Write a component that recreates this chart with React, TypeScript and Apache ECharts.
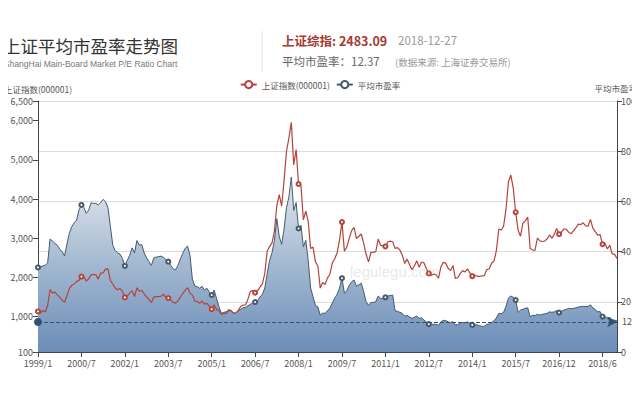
import React, { useEffect, useRef } from "react";
import * as echarts from "echarts";

const categories = [
  "1999/1","1999/2","1999/3","1999/4","1999/5","1999/6","1999/7","1999/8","1999/9","1999/10","1999/11","1999/12",
  "2000/1","2000/2","2000/3","2000/4","2000/5","2000/6","2000/7","2000/8","2000/9","2000/10","2000/11","2000/12",
  "2001/1","2001/2","2001/3","2001/4","2001/5","2001/6","2001/7","2001/8","2001/9","2001/10","2001/11","2001/12",
  "2002/1","2002/2","2002/3","2002/4","2002/5","2002/6","2002/7","2002/8","2002/9","2002/10","2002/11","2002/12",
  "2003/1","2003/2","2003/3","2003/4","2003/5","2003/6","2003/7","2003/8","2003/9","2003/10","2003/11","2003/12",
  "2004/1","2004/2","2004/3","2004/4","2004/5","2004/6","2004/7","2004/8","2004/9","2004/10","2004/11","2004/12",
  "2005/1","2005/2","2005/3","2005/4","2005/5","2005/6","2005/7","2005/8","2005/9","2005/10","2005/11","2005/12",
  "2006/1","2006/2","2006/3","2006/4","2006/5","2006/6","2006/7","2006/8","2006/9","2006/10","2006/11","2006/12",
  "2007/1","2007/2","2007/3","2007/4","2007/5","2007/6","2007/7","2007/8","2007/9","2007/10","2007/11","2007/12",
  "2008/1","2008/2","2008/3","2008/4","2008/5","2008/6","2008/7","2008/8","2008/9","2008/10","2008/11","2008/12",
  "2009/1","2009/2","2009/3","2009/4","2009/5","2009/6","2009/7","2009/8","2009/9","2009/10","2009/11","2009/12",
  "2010/1","2010/2","2010/3","2010/4","2010/5","2010/6","2010/7","2010/8","2010/9","2010/10","2010/11","2010/12",
  "2011/1","2011/2","2011/3","2011/4","2011/5","2011/6","2011/7","2011/8","2011/9","2011/10","2011/11","2011/12",
  "2012/1","2012/2","2012/3","2012/4","2012/5","2012/6","2012/7","2012/8","2012/9","2012/10","2012/11","2012/12",
  "2013/1","2013/2","2013/3","2013/4","2013/5","2013/6","2013/7","2013/8","2013/9","2013/10","2013/11","2013/12",
  "2014/1","2014/2","2014/3","2014/4","2014/5","2014/6","2014/7","2014/8","2014/9","2014/10","2014/11","2014/12",
  "2015/1","2015/2","2015/3","2015/4","2015/5","2015/6","2015/7","2015/8","2015/9","2015/10","2015/11","2015/12",
  "2016/1","2016/1","2016/2","2016/3","2016/4","2016/5","2016/6","2016/7","2016/8","2016/9","2016/10","2016/11","2016/12",
  "2017/1","2017/2","2017/3","2017/4","2017/5","2017/6","2017/7","2017/8","2017/9","2017/10","2017/11","2017/12",
  "2018/1","2018/2","2018/3","2018/4","2018/5","2018/6","2018/7","2018/8","2018/9","2018/10","2018/11","2018/12",
];

// 上证指数(000001)
const shIndex = [
  1135, 1090, 1158, 1121, 1279, 1689, 1601, 1627, 1557, 1500, 1423, 1367,
  1535, 1715, 1800, 1836, 1895, 1928, 2023, 2021, 1910, 1961, 2071, 2073,
  2066, 1959, 2113, 2119, 2214, 2218, 1920, 1834, 1730, 1690, 1718, 1646,
  1492, 1524, 1603, 1665, 1515, 1733, 1652, 1669, 1582, 1507, 1435, 1358,
  1500, 1512, 1511, 1521, 1577, 1486, 1477, 1422, 1367, 1348, 1397, 1497,
  1591, 1675, 1742, 1596, 1556, 1399, 1386, 1342, 1397, 1321, 1341, 1267,
  1192, 1306, 1181, 1159, 1061, 1081, 1083, 1163, 1156, 1093, 1099, 1161,
  1258, 1299, 1298, 1440, 1641, 1672, 1613, 1659, 1752, 1838, 2099, 2675,
  2786, 2881, 3184, 3841, 4110, 3821, 4471, 5219, 5552, 5955, 4872, 5262,
  4383, 4349, 3473, 3693, 3433, 2736, 2776, 2397, 2294, 1729, 1871, 1821,
  1991, 2083, 2373, 2478, 2633, 2959, 3412, 2668, 2779, 2996, 3195, 3277,
  2989, 3052, 3109, 2871, 2592, 2398, 2638, 2639, 2656, 2979, 2820, 2808,
  2791, 2905, 2928, 2912, 2743, 2762, 2702, 2567, 2359, 2468, 2333, 2199,
  2293, 2428, 2263, 2396, 2372, 2225, 2104, 2048, 2086, 2069, 1980, 2269,
  2385, 2366, 2237, 2178, 2301, 1979, 1994, 2098, 2175, 2142, 2221, 2116,
  2033, 2056, 2033, 2026, 2039, 2048, 2202, 2217, 2364, 2420, 2683, 3235,
  3210, 3310, 3748, 4442, 4612, 4277, 3664, 3206, 3053, 3383, 3445, 3539,
  2738, 2700, 2688, 3004, 2938, 2917, 2930, 2979, 3085, 3005, 3100, 3250, 3104,
  3159, 3242, 3223, 3155, 3117, 3192, 3273, 3361, 3349, 3393, 3317, 3307,
  3481, 3259, 3169, 3082, 3095, 2847, 2876, 2725, 2821, 2603, 2588, 2483,
];

// 平均市盈率
const avgPE = [
  33.7, 33.9, 34.3, 34.6, 35.5, 45.0, 44.2, 43.3, 42.5, 41.0, 40.0, 38.3,
  43.0, 47.3, 49.9, 51.5, 52.6, 56.6, 58.6, 57.6, 55.2, 56.5, 59.5, 59.2,
  59.2, 58.6, 59.5, 60.8, 59.9, 57.5, 50.0, 42.5, 40.5, 39.5, 39.0, 37.3,
  34.3, 36.5, 38.5, 41.5, 39.5, 44.4, 42.6, 42.8, 39.5, 37.5, 36.0, 34.5,
  37.5, 37.8, 38.0, 38.2, 37.7, 36.8, 36.0, 34.6, 33.2, 32.7, 34.5, 37.0,
  39.3, 41.3, 42.2, 38.5, 29.0, 26.3, 26.0, 25.4, 26.2, 24.7, 25.4, 23.9,
  22.7, 24.7, 21.4, 18.0, 15.4, 15.8, 16.0, 16.8, 16.6, 15.6, 15.4, 16.4,
  17.0, 17.6, 17.8, 18.4, 19.0, 19.4, 19.9, 20.5, 21.9, 23.0, 25.5, 31.2,
  36.5, 39.5, 44.5, 53.1, 46.0, 42.9, 49.0, 57.5, 61.7, 69.7, 56.4, 59.5,
  49.2, 50.5, 41.9, 44.5, 36.5, 25.5, 22.0, 18.5, 18.0, 14.7, 15.5, 15.4,
  16.5, 17.5, 19.5, 21.5, 23.0, 25.5, 29.4, 23.4, 24.5, 26.5, 28.0, 28.7,
  26.2, 26.8, 27.4, 24.0, 20.0, 18.6, 19.7, 19.8, 20.0, 22.3, 21.4, 21.2,
  21.8, 22.3, 22.5, 22.7, 16.5, 16.2, 15.8, 15.4, 14.2, 14.6, 14.0, 13.4,
  13.8, 14.3, 13.4, 13.6, 12.7, 11.9, 11.1, 10.9, 11.1, 11.0, 10.6, 12.0,
  12.6, 12.5, 12.0, 11.7, 12.1, 10.8, 10.9, 11.4, 11.8, 11.6, 12.0, 11.4,
  10.8, 10.9, 10.8, 10.5, 10.2, 10.3, 11.0, 11.1, 11.8, 12.4, 13.6, 15.4,
  15.3, 15.8, 18.2, 21.5, 22.3, 21.8, 20.7, 15.8, 16.7, 17.0, 17.4, 17.6,
  14.1, 14.6, 14.5, 15.0, 14.7, 15.0, 15.2, 15.4, 16.0, 15.8, 16.0, 16.5, 15.7,
  16.2, 16.7, 17.0, 17.4, 17.2, 17.4, 17.6, 17.9, 18.1, 18.2, 18.1, 18.1,
  18.8, 17.6, 16.9, 16.0, 16.1, 14.1, 14.2, 13.4, 13.8, 12.8, 12.7, 12.37,
];

const peMarkValue = 12;
const latestIndex = "2483.09";
const latestDate = "2018-12-27";
const latestPE = "12.37";

const CJK = '"Noto Sans CJK SC", "Microsoft YaHei", sans-serif';
const LATIN = '"Liberation Sans", Arial, sans-serif';

export default function App() {
  const ref = useRef<HTMLDivElement>(null);

  useEffect(() => {
    if (!ref.current) return;
    const chart = echarts.init(ref.current, undefined, { renderer: "svg" });
    chart.setOption({
      animation: false,
      backgroundColor: "#ffffff",
      textStyle: { fontFamily: CJK },
      legend: {
        top: 75,
        left: "center",
        itemWidth: 16,
        itemHeight: 9,
        itemGap: 6,
        textStyle: { fontSize: 8.5, color: "#555" },
        data: ["上证指数(000001)", "平均市盈率"],
      },
      grid: { left: 38, right: 23, top: 101, bottom: 48 },
      xAxis: {
        type: "category",
        boundaryGap: false,
        data: categories,
        axisLine: { lineStyle: { color: "#444" } },
        axisTick: { interval: 17, lineStyle: { color: "#444" } },
        axisLabel: { interval: 17, fontSize: 9, color: "#555", margin: 7 },
      },
      yAxis: [
        {
          type: "value",
          name: "上证指数(000001)",
          nameGap: 8,
          nameTextStyle: { fontSize: 8.5, color: "#555" },
          min: 100,
          max: 6500,
          axisLine: { show: true, lineStyle: { color: "#444" } },
          axisTick: { show: true },
          axisLabel: { fontSize: 9, color: "#555", margin: 5 },
          splitLine: { show: false },
        },
        {
          type: "value",
          min: 0,
          max: 100,
          interval: 20,
          axisLine: { show: true, lineStyle: { color: "#444" } },
          axisTick: { show: true },
          axisLabel: { fontSize: 9, color: "#555", margin: 4 },
          splitLine: { show: true, lineStyle: { color: "#dcdcdc" } },
        },
      ],
      series: [
        {
          name: "平均市盈率",
          type: "line",
          yAxisIndex: 1,
          data: avgPE,
          symbol: "emptyCircle",
          symbolSize: 4,
          showSymbol: true,
          lineStyle: { color: "#45596c", width: 1 },
          itemStyle: { color: "#45596c", borderWidth: 1 },
          areaStyle: {
            color: new echarts.graphic.LinearGradient(0, 0, 0, 1, [
              { offset: 0, color: "#e4e9ef" },
              { offset: 0.45, color: "#a9bdd3" },
              { offset: 1, color: "#6b8db8" },
            ]),
            opacity: 1,
          },
          z: 2,
          markLine: {
            silent: true,
            symbol: ["circle", "arrow"],
            symbolSize: [8, 10],
            lineStyle: { type: "dashed", color: "#34506e", width: 1 },
            label: { position: "end", fontSize: 9, color: "#555", formatter: "{c}" },
            data: [{ yAxis: peMarkValue }],
          },
        },
        {
          name: "上证指数(000001)",
          type: "line",
          yAxisIndex: 0,
          data: shIndex,
          symbol: "emptyCircle",
          symbolSize: 4,
          showSymbol: true,
          lineStyle: { color: "#b4433b", width: 1.2 },
          itemStyle: { color: "#b4433b", borderWidth: 1 },
          z: 3,
        },
      ],
      graphic: [
        {
          type: "text",
          x: 3,
          y: 45,
          style: { text: "上证平均市盈率走势图", font: `17.5px ${CJK}`, fill: "#333", align: "left", verticalAlign: "middle" },
        },
        {
          type: "text",
          x: 4,
          y: 64,
          style: {
            text: "ShangHai Main-Board Market P/E Ratio Chart",
            font: `8.5px ${LATIN}`,
            fill: "#777",
            align: "left",
            verticalAlign: "middle",
          },
        },
        {
          type: "line",
          shape: { x1: 262, y1: 31, x2: 262, y2: 72 },
          style: { stroke: "#e3e3e3", lineWidth: 1 },
        },
        {
          type: "text",
          x: 282,
          y: 40,
          style: { text: `上证综指: ${latestIndex}`, font: `bold 12.5px ${CJK}`, fill: "#a63a31", align: "left", verticalAlign: "middle" },
        },
        {
          type: "text",
          x: 398,
          y: 40,
          style: { text: latestDate, font: `11.5px ${CJK}`, fill: "#9a9a9a", align: "left", verticalAlign: "middle" },
        },
        {
          type: "text",
          x: 282,
          y: 61,
          style: { text: `平均市盈率：${latestPE}`, font: `11.5px ${CJK}`, fill: "#666", align: "left", verticalAlign: "middle" },
        },
        {
          type: "text",
          x: 395,
          y: 62,
          style: { text: "(数据来源: 上海证券交易所)", font: `9.5px ${CJK}`, fill: "#999", align: "left", verticalAlign: "middle" },
        },
        {
          type: "text",
          x: 637,
          y: 88,
          style: { text: "平均市盈率", font: `8.5px ${CJK}`, fill: "#555", align: "right", verticalAlign: "middle" },
        },
        {
          type: "text",
          x: 350,
          y: 271,
          z: 10,
          style: { text: "legulegu.com", font: `15px ${LATIN}`, fill: "rgba(190,190,190,0.35)", align: "left", verticalAlign: "middle" },
        },
      ],
    });
    return () => chart.dispose();
  }, []);

  return <div ref={ref} style={{ width: 640, height: 400, margin: -8 }} />;
}
